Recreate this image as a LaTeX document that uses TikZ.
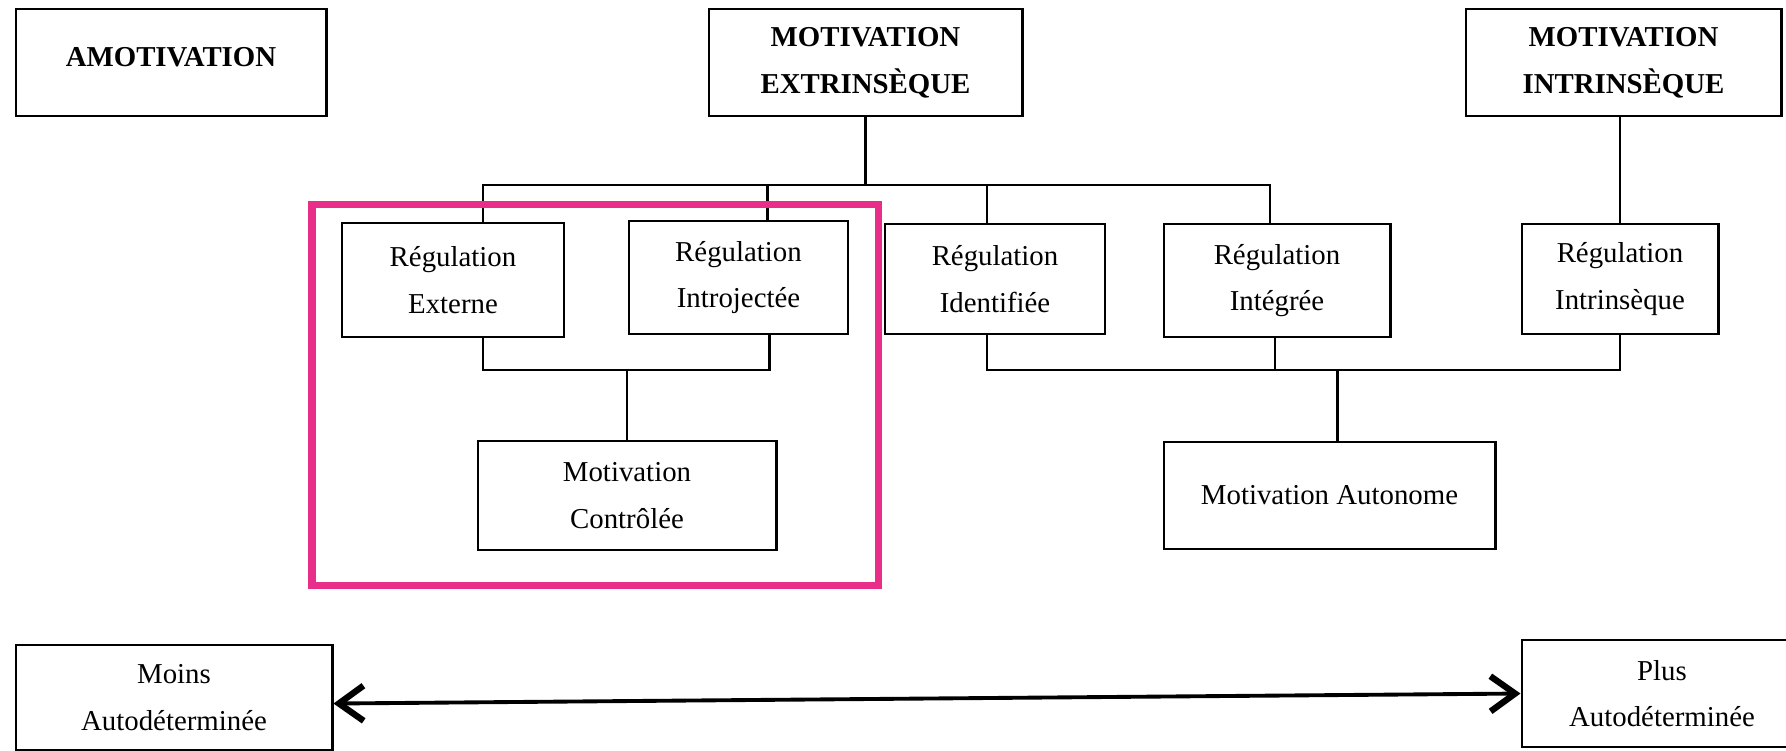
\documentclass[tikz,border=0pt]{standalone}
\usepackage{fontspec}
\setmainfont{Liberation Serif}
\usetikzlibrary{arrows.meta}

\definecolor{framepink}{RGB}{233,46,138}

\begin{document}
\begin{tikzpicture}[x=0.01cm,y=-0.01cm,line width=0.8pt,
  box/.style={draw,rectangle,align=center,inner sep=0pt,
    font=\fontsize{8.2}{13.2}\selectfont},
  head box/.style={box,font=\fontsize{8.2}{13.4}\selectfont\bfseries},
  >={Straight Barb[length=7pt,width=10pt,line width=1.8pt]}]

  \useasboundingbox (0,0) rectangle (1786,750);

  \node[head box,minimum width=3.1cm,minimum height=1.07cm,text depth=3.4pt] (amot) at (171,62.5) {AMOTIVATION};
  \node[head box,minimum width=3.13cm,minimum height=1.07cm] (mext) at (865.5,62.5) {MOTIVATION\\EXTRINSÈQUE};
  \node[head box,minimum width=3.15cm,minimum height=1.07cm] (mint) at (1623.5,62.5) {MOTIVATION\\INTRINSÈQUE};

  \node[box,minimum width=2.22cm,minimum height=1.14cm] (rext) at (453,280) {Régulation\\Externe};
  \node[box,minimum width=2.19cm,minimum height=1.13cm] (rintro) at (738.5,277.5) {Régulation\\Introjectée};
  \node[box,minimum width=2.2cm,minimum height=1.1cm] (rident) at (995,279) {Régulation\\Identifiée};
  \node[box,minimum width=2.26cm,minimum height=1.13cm] (rinteg) at (1277,280.5) {Régulation\\Intégrée};
  \node[box,minimum width=1.96cm,minimum height=1.1cm] (rintr) at (1620,279) {Régulation\\Intrinsèque};

  \node[box,minimum width=2.98cm,minimum height=1.09cm] (mctrl) at (627,495.5) {Motivation\\Contrôlée};
  \node[box,minimum width=3.31cm,minimum height=1.07cm] (mauto) at (1329.5,495.5) {Motivation Autonome};

  \node[box,minimum width=3.16cm,minimum height=1.05cm] (moins) at (174,697.5) {Moins\\Autodéterminée};
  \node[box,minimum width=2.8cm,minimum height=1.07cm] (plus) at (1662,693.5) {Plus\\Autodéterminée};

  \coordinate (top bar) at (0,185);
  \coordinate (low bar) at (0,370);

  % extrinseque
  \draw (mext) -- (mext |- top bar);
  \draw ([xshift=.3cm]rext.north) |- ([xshift=-.07cm]rinteg.north |- top bar) -- ([xshift=-.07cm]rinteg.north);
  \draw ([xshift=.29cm]rintro.north) -- ([xshift=.29cm]rintro.north |- top bar);
  \draw ([xshift=-.08cm]rident.north) -- ([xshift=-.08cm]rident.north |- top bar);
  % intrinseque
  \draw (rintr) -- (rintr |- mint.south);

  % controlee
  \draw ([xshift=.3cm]rext.south) |- ([xshift=.31cm]rintro.south |- low bar) -- ([xshift=.31cm]rintro.south);
  \draw (mctrl) -- (mctrl |- low bar);
  % autonome
  \draw ([xshift=-.08cm]rident.south) |- (rintr.south |- low bar) -- (rintr.south);
  \draw ([xshift=-.02cm]rinteg.south) -- ([xshift=-.02cm]rinteg.south |- low bar);
  \draw ([xshift=.08cm]mauto.north) -- ([xshift=.08cm]mauto.north |- low bar);

  \draw[<->,line width=1.1pt] ([yshift=-0.06cm]moins.east) -- (plus.west);

  \draw[framepink,line width=2pt] (312,204.5) rectangle (878,585);

\end{tikzpicture}
\end{document}
